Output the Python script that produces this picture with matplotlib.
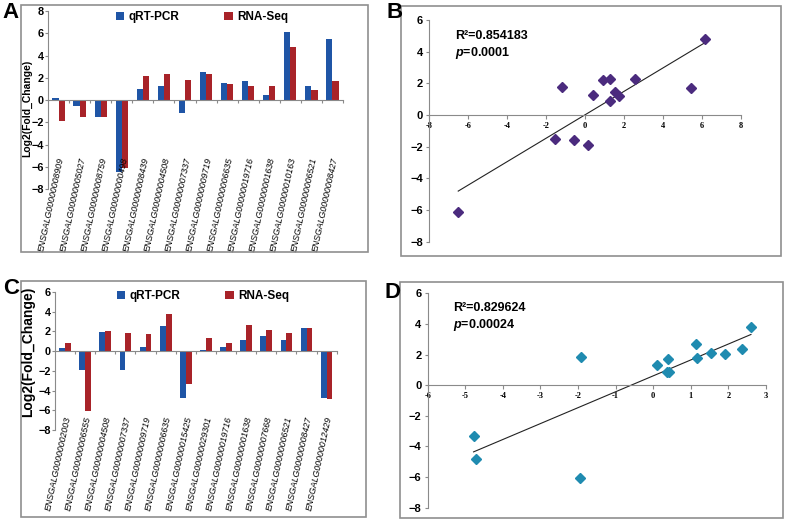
import matplotlib
matplotlib.use('Agg')
import matplotlib.pyplot as plt
import numpy as np
from matplotlib.patches import Rectangle

plt.rcParams['font.family'] = ['Liberation Sans', 'DejaVu Sans']
plt.rcParams['mathtext.fontset'] = 'custom'
plt.rcParams['mathtext.it'] = 'Liberation Sans:italic:bold'
plt.rcParams['mathtext.rm'] = 'Liberation Sans:bold'

# ---------------- data ----------------
genes_A = ["ENSGALG00000008909", "ENSGALG00000005027", "ENSGALG00000008759",
           "ENSGALG00000000498", "ENSGALG00000008439", "ENSGALG00000004508",
           "ENSGALG00000007337", "ENSGALG00000009719", "ENSGALG00000006635",
           "ENSGALG00000019716", "ENSGALG00000001638", "ENSGALG00000010163",
           "ENSGALG00000006521", "ENSGALG00000008427"]
qrt_A = [0.18, -0.57, -1.55, -6.5, 0.95, 1.3, -1.17, 2.55, 1.55, 1.75, 0.44, 6.15, 1.3, 5.45]
rna_A = [-1.87, -1.56, -1.53, -6.15, 2.2, 2.3, 1.79, 2.3, 1.47, 1.23, 1.28, 4.77, 0.9, 1.7]

genes_C = ["ENSGALG00000002003", "ENSGALG00000006555", "ENSGALG00000004508",
           "ENSGALG00000007337", "ENSGALG00000009719", "ENSGALG00000006635",
           "ENSGALG00000015425", "ENSGALG00000029301", "ENSGALG00000019716",
           "ENSGALG00000001638", "ENSGALG00000007668", "ENSGALG00000006521",
           "ENSGALG00000008427", "ENSGALG00000012429"]
qrt_C = [0.36, -1.95, 1.92, -1.92, 0.4, 2.6, -4.78, 0.1, 0.43, 1.14, 1.55, 1.16, 2.36, -4.72]
rna_C = [0.85, -6.05, 2.06, 1.87, 1.72, 3.77, -3.35, 1.3, 0.84, 2.66, 2.11, 1.8, 2.38, -4.82]

stats_B = ["R\u00b2=0.854183", r"$\mathit{p}$=0.0001"]
stats_D = ["R\u00b2=0.829624", r"$\mathit{p}$=0.00024"]

BLUE = '#1f55a6'
RED = '#a82329'
PURPLE = '#4b2b7e'
TEAL = '#1f8bb0'
GRAY = '#8a8a8a'

W, H = 787, 521
fig = plt.figure(figsize=(W / 100, H / 100), dpi=100)


def rect(l, t, r, b):
    return [l / W, 1 - b / H, (r - l) / W, (b - t) / H]


def frame(l, t, r, b):
    fig.patches.append(Rectangle((l / W, 1 - b / H), (r - l) / W, (b - t) / H,
                                 transform=fig.transFigure, fill=False,
                                 edgecolor='#8f8f8f', lw=1.2, zorder=0))


def bar_panel(ax, genes, q, r, ylim, label_y, legend_xy, ylabel_xy, ylabel_size):
    x = np.arange(len(genes))
    w = 0.29
    ax.bar(x - w / 2, q, w, color=BLUE, label='qRT-PCR', zorder=2)
    ax.bar(x + w / 2, r, w, color=RED, label='RNA-Seq', zorder=2)
    ax.set_xlim(-0.5, len(genes) - 0.5)
    ax.set_ylim(*ylim)
    ax.set_yticks(np.arange(ylim[0], ylim[1] + 1, 2))
    for s in ['top', 'right']:
        ax.spines[s].set_visible(False)
    ax.spines['left'].set_color(GRAY)
    ax.spines['bottom'].set_color(GRAY)
    ax.spines['bottom'].set_position(('data', 0))
    ax.set_xticks(x + 0.5)
    ax.tick_params(axis='x', direction='out', length=2.5, color=GRAY, labelbottom=False)
    ax.tick_params(axis='y', direction='out', length=2, color=GRAY, labelsize=7.8, pad=1)
    for lab in ax.get_yticklabels():
        lab.set_fontweight('bold')
    for i, g in enumerate(genes):
        ax.text(i + 0.15, label_y, g, rotation=78, rotation_mode='anchor',
                ha='right', va='center', fontsize=6.3, style='italic', zorder=5)
    ax.legend(loc='center', bbox_to_anchor=(legend_xy[0] / W, 1 - legend_xy[1] / H),
              bbox_transform=fig.transFigure, ncol=2, frameon=False,
              prop=dict(weight='bold', size=8.5), handlelength=0.7, handleheight=0.7,
              handletextpad=0.4, columnspacing=3.8)
    fig.text(ylabel_xy[0] / W, 1 - ylabel_xy[1] / H, 'Log2(Fold_Change)', rotation=90,
             ha='center', va='center', fontsize=ylabel_size, fontweight='bold')


def scatter_panel(ax, x, y, xlim, ylim, xstep, color, stats, stats_xy):
    x = np.asarray(x)
    y = np.asarray(y)
    ax.plot(x, y, 'D', color=color, ms=4.6, ls='none', zorder=3)
    k, b = np.polyfit(x, y, 1)
    xs = np.array([x.min(), x.max()])
    ax.plot(xs, k * xs + b, color='#222222', lw=0.8, zorder=2)
    ax.set_xlim(*xlim)
    ax.set_ylim(*ylim)
    ax.set_xticks(np.arange(xlim[0], xlim[1] + xstep / 2, xstep))
    ax.set_yticks(np.arange(ylim[0], ylim[1] + 1, 2))
    for s in ['top', 'right']:
        ax.spines[s].set_visible(False)
    ax.spines['left'].set_color(GRAY)
    ax.spines['bottom'].set_color(GRAY)
    ax.spines['bottom'].set_position(('data', 0))
    ax.tick_params(axis='x', direction='out', length=3, color=GRAY, pad=2)
    ax.tick_params(axis='y', direction='out', length=2.5, color=GRAY, labelsize=8, pad=2)
    ax.set_xticklabels([f'{v:g}' for v in ax.get_xticks()],
                       fontfamily='Liberation Serif', fontweight='bold', fontsize=6)
    for lab in ax.get_yticklabels():
        lab.set_fontweight('bold')
    fig.text(stats_xy[0] / W, 1 - stats_xy[1] / H, stats[0], fontsize=9,
             fontweight='bold', va='center')
    fig.text(stats_xy[0] / W, 1 - (stats_xy[1] + 17) / H, stats[1], fontsize=9,
             fontweight='bold', va='center')


# frames
frame(20.7, 5, 368, 252)
frame(401, 6, 781, 255.7)
frame(20.7, 281, 366, 516.7)
frame(400, 281.7, 782.7, 517.7)

axA = fig.add_axes(rect(48, 11, 343, 189))
bar_panel(axA, genes_A, qrt_A, rna_A, (-8, 8), -5.2, (202, 17), (27, 108), 7.5)

axB = fig.add_axes(rect(429, 20, 740.7, 241.7))
scatter_panel(axB, qrt_A, rna_A, (-8, 8), (-8, 6), 2, PURPLE, stats_B, (455, 36))

axC = fig.add_axes(rect(55, 292, 336.7, 430))
bar_panel(axC, genes_C, qrt_C, rna_C, (-8, 6), -6.6, (203, 296), (28, 352), 10)

axD = fig.add_axes(rect(427.7, 293.3, 766, 507.7))
scatter_panel(axD, qrt_C, rna_C, (-6, 3), (-8, 6), 1, TEAL, stats_D, (453, 308))

for letter, (px, py) in zip("ABCD", [(2, 13), (386, 13), (3, 289), (385, 292)]):
    fig.text(px / W, 1 - py / H, letter, fontsize=16, fontweight='bold', va='center')

fig.savefig('out.png', dpi=100)
